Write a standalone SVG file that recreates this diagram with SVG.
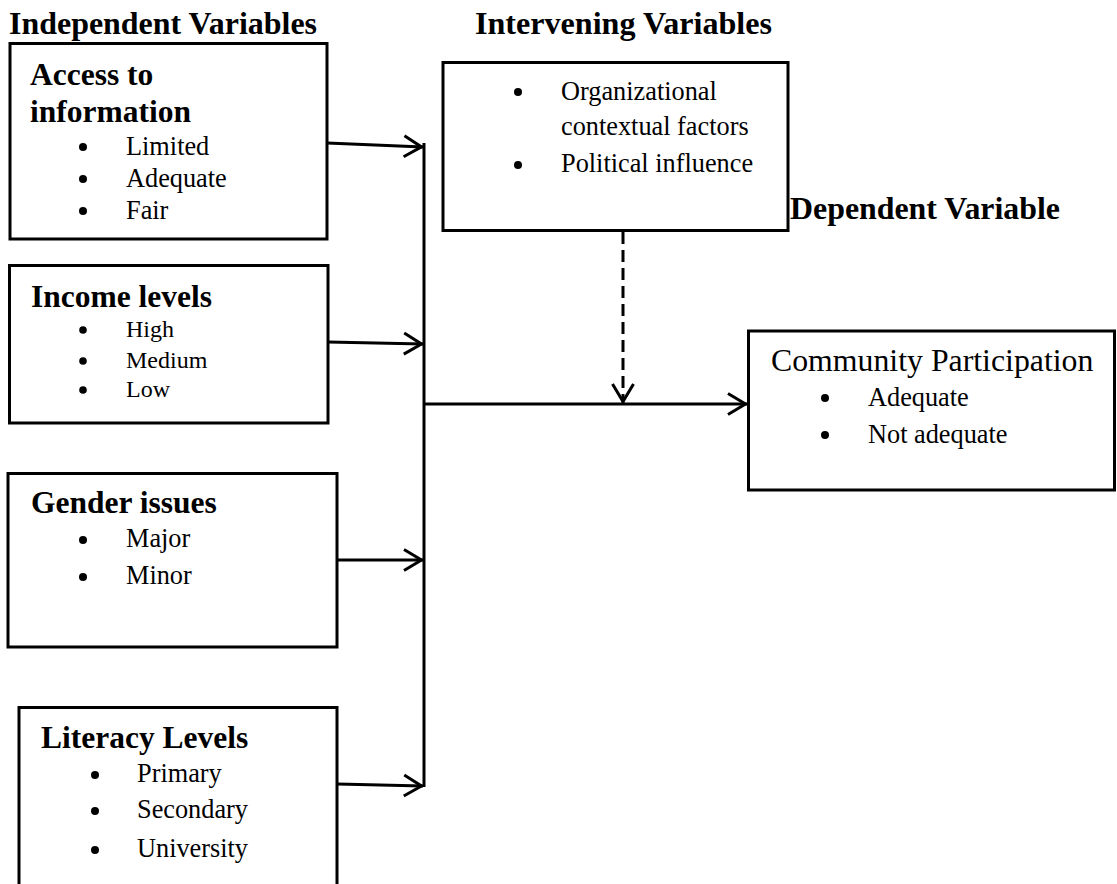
<svg xmlns="http://www.w3.org/2000/svg" width="1117" height="884" viewBox="0 0 1117 884">
<style>
.box{fill:#fff;stroke:#000;stroke-width:3}
.h{font-family:"Liberation Serif","Times New Roman",serif;font-weight:bold;font-size:31.5px;fill:#000}
.t{font-family:"Liberation Serif","Times New Roman",serif;font-size:26.3px;fill:#000}
.ts{font-family:"Liberation Serif","Times New Roman",serif;font-size:24px;fill:#000}
.ct{font-family:"Liberation Serif","Times New Roman",serif;font-size:31.8px;fill:#000}
.b{fill:#000}
.ln{fill:none;stroke:#000;stroke-width:3}
.dash{fill:none;stroke:#000;stroke-width:3;stroke-dasharray:12 6}
</style>
<defs>
<marker id="arr" viewBox="-22 -13 24 26" refX="0" refY="0" markerWidth="24" markerHeight="26" orient="auto" markerUnits="userSpaceOnUse">
<path d="M-19,-10.5 L-1.5,0 L-19,10.5" fill="none" stroke="#000" stroke-width="3"/>
</marker>
</defs>

<rect width="1117" height="884" fill="#fff"/>

<g id="headings">
<text class="h" x="9" y="34" textLength="308" lengthAdjust="spacingAndGlyphs">Independent Variables</text>
<text class="h" x="475" y="34" textLength="297" lengthAdjust="spacingAndGlyphs">Intervening Variables</text>
<text class="h" x="790" y="219" textLength="270" lengthAdjust="spacingAndGlyphs">Dependent Variable</text>
</g>

<g id="access">
<rect class="box" x="10" y="43.5" width="317" height="195.5"/>
<text class="h" x="30" y="85">Access to</text>
<text class="h" x="30" y="122">information</text>
<circle class="b" cx="83" cy="147" r="4"/><text class="t" x="126" y="155">Limited</text>
<circle class="b" cx="83" cy="179" r="4"/><text class="t" x="126" y="187">Adequate</text>
<circle class="b" cx="83" cy="211" r="4"/><text class="t" x="126" y="219">Fair</text>
</g>

<g id="income">
<rect class="box" x="9.5" y="265.5" width="318.5" height="157.5"/>
<text class="h" x="31" y="307">Income levels</text>
<circle class="b" cx="83" cy="330" r="3.8"/><text class="ts" x="126" y="337">High</text>
<circle class="b" cx="83" cy="361" r="3.8"/><text class="ts" x="126" y="368">Medium</text>
<circle class="b" cx="83" cy="390" r="3.8"/><text class="ts" x="126" y="397">Low</text>
</g>

<g id="gender">
<rect class="box" x="8" y="473.5" width="329" height="173.5"/>
<text class="h" x="31" y="513">Gender issues</text>
<circle class="b" cx="83" cy="540" r="4"/><text class="t" x="126" y="547">Major</text>
<circle class="b" cx="83" cy="577" r="4"/><text class="t" x="126" y="584">Minor</text>
</g>

<g id="literacy">
<path class="ln" d="M19,886 V707.5 H337 V886"/>
<text class="h" x="41" y="748">Literacy Levels</text>
<circle class="b" cx="95" cy="775" r="4"/><text class="t" x="137" y="782">Primary</text>
<circle class="b" cx="95" cy="811" r="4"/><text class="t" x="137" y="818">Secondary</text>
<circle class="b" cx="95" cy="850" r="4"/><text class="t" x="137" y="857">University</text>
</g>

<g id="intervening">
<rect class="box" x="443" y="62.5" width="345" height="168"/>
<circle class="b" cx="518" cy="92" r="4"/><text class="t" x="561" y="100">Organizational</text>
<text class="t" x="561" y="135">contextual factors</text>
<circle class="b" cx="518" cy="165" r="4"/><text class="t" x="561" y="172">Political influence</text>
</g>

<g id="community">
<rect class="box" x="748.5" y="331" width="366" height="159"/>
<text class="ct" x="771" y="371">Community Participation</text>
<circle class="b" cx="825" cy="398" r="4"/><text class="t" x="868" y="406">Adequate</text>
<circle class="b" cx="825" cy="435" r="4"/><text class="t" x="868" y="443">Not adequate</text>
</g>

<g id="connectors">
<path class="ln" d="M424,143 V787"/>
<path class="ln" d="M327,143 L423,147" marker-end="url(#arr)"/>
<path class="ln" d="M328,342 L423,344" marker-end="url(#arr)"/>
<path class="ln" d="M337,560 L423,560" marker-end="url(#arr)"/>
<path class="ln" d="M337,784 L423,786" marker-end="url(#arr)"/>
<path class="ln" d="M424,404 L747,404" marker-end="url(#arr)"/>
<path class="dash" d="M623,232 V403" marker-end="url(#arr)"/>
</g>
</svg>
